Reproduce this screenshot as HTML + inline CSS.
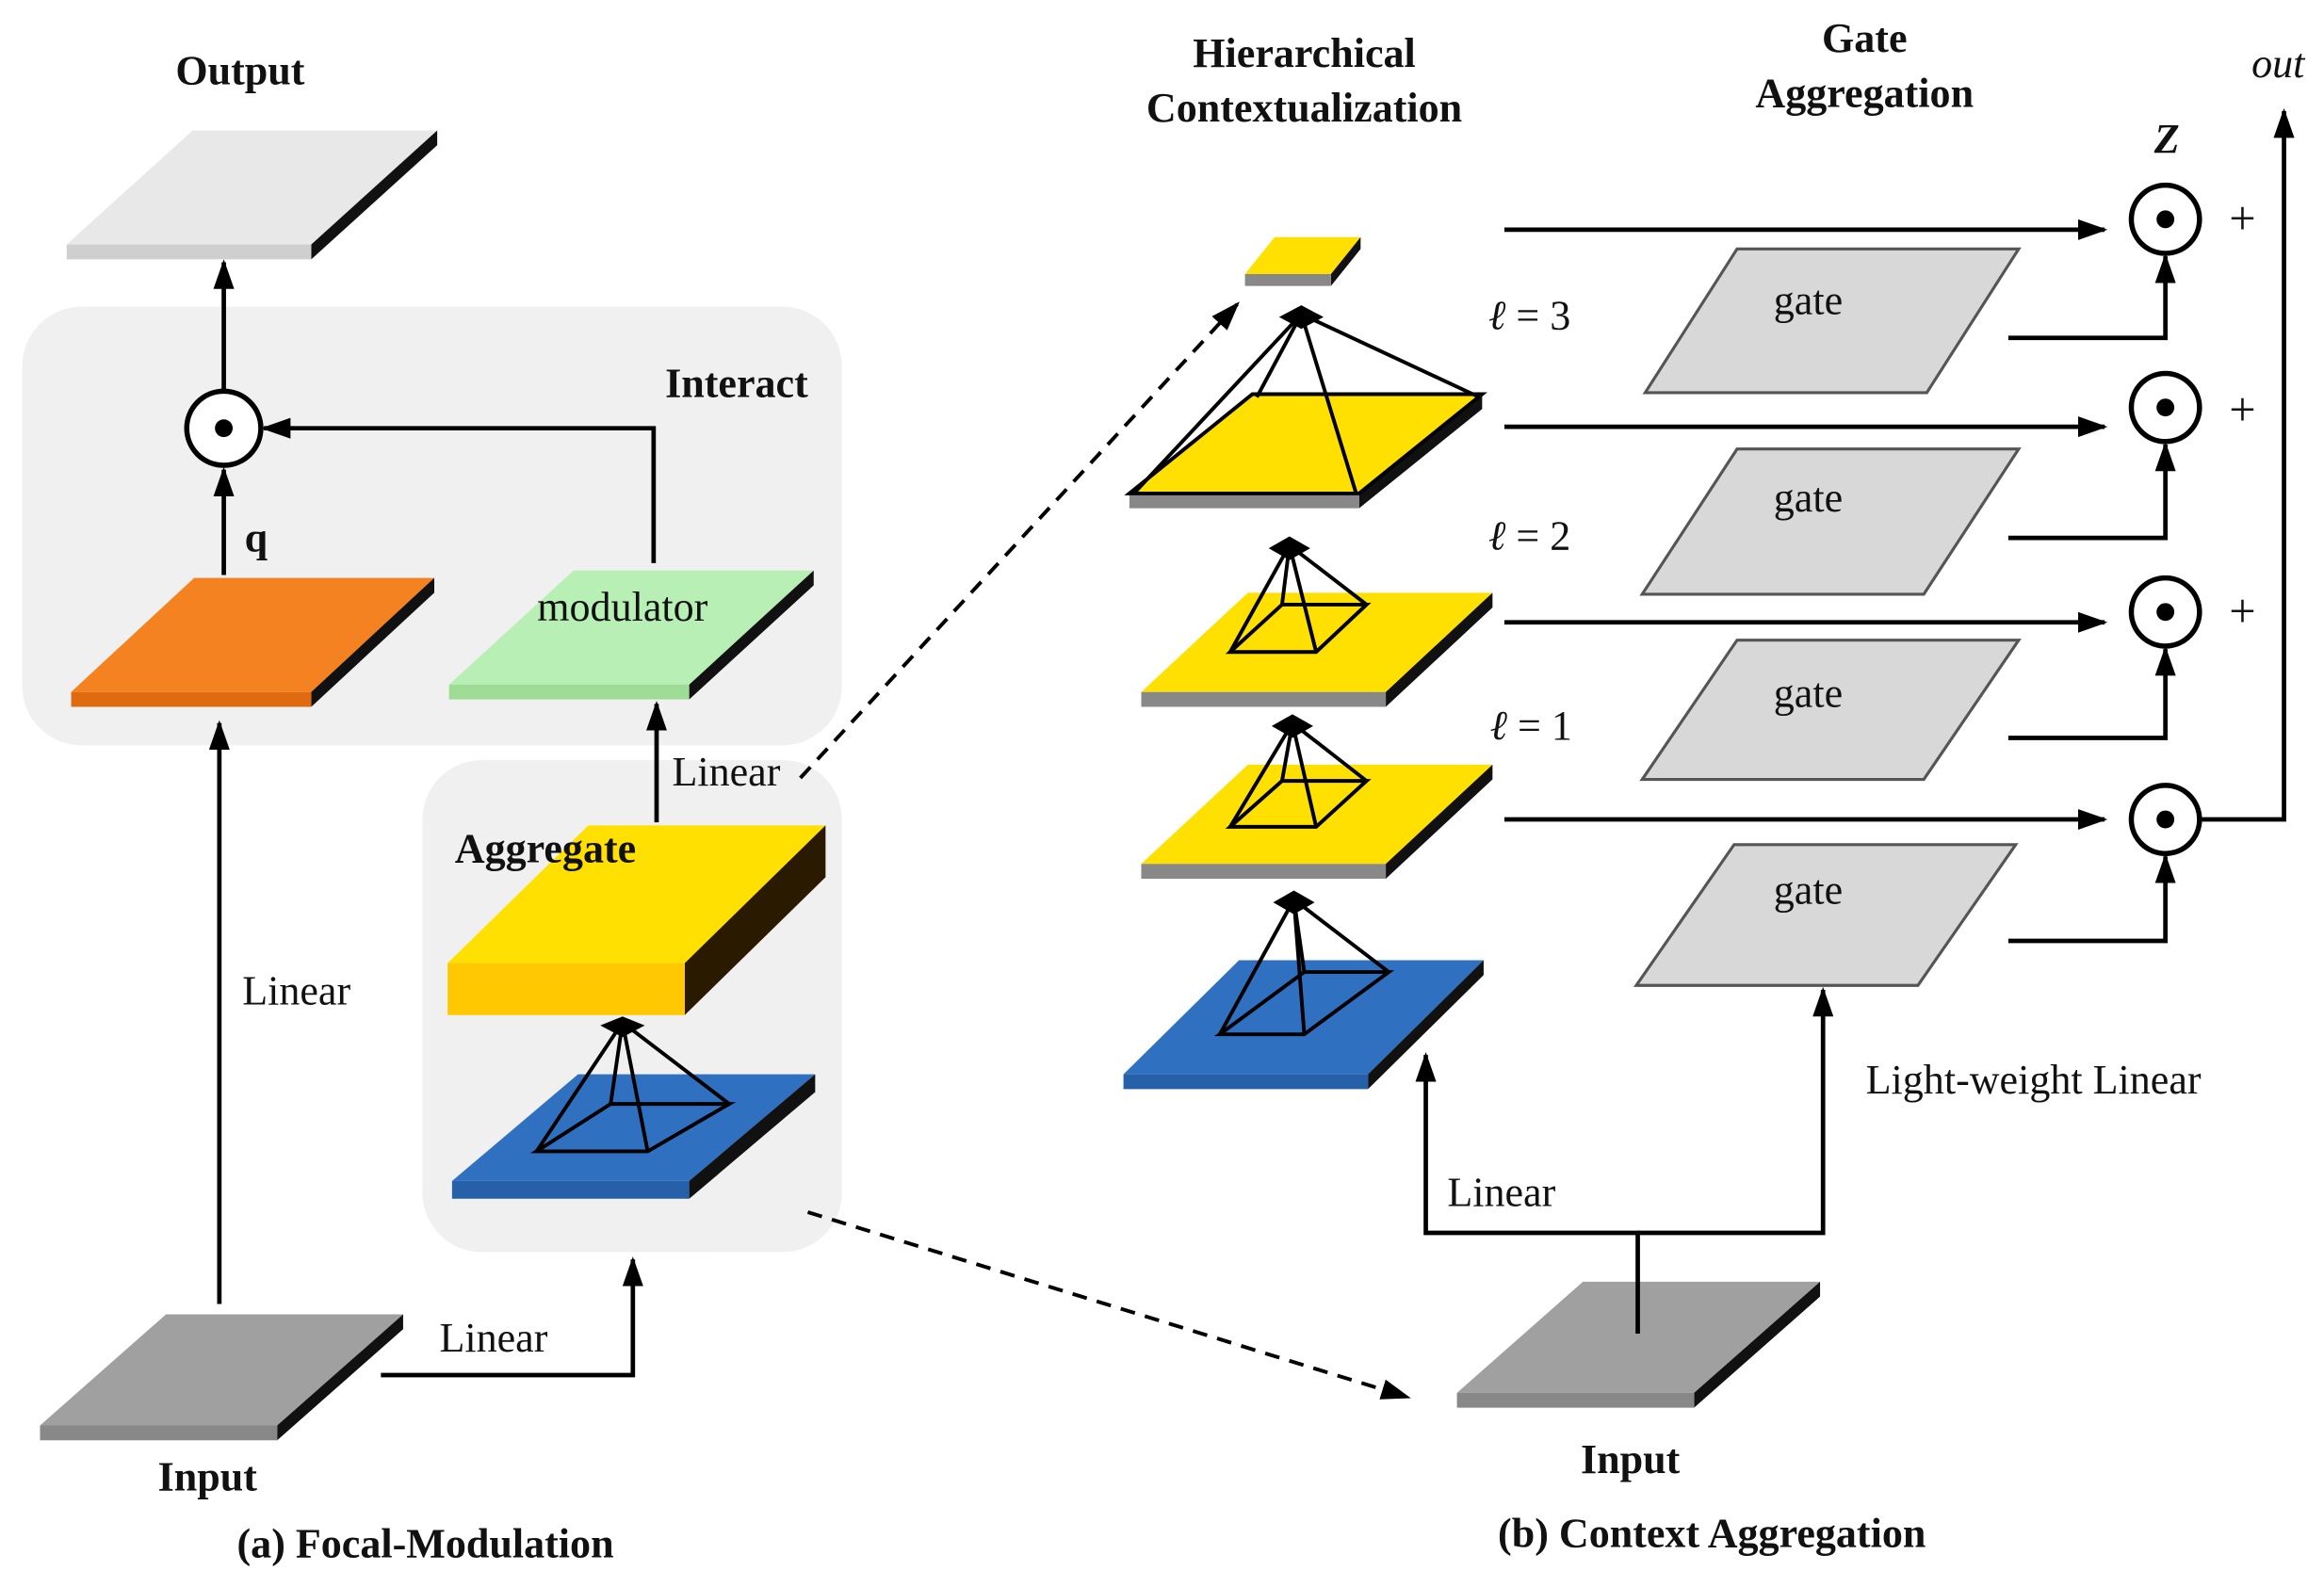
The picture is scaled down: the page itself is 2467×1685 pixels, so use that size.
<!DOCTYPE html>
<html><head><meta charset="utf-8"><style>
html,body{margin:0;padding:0;background:#fff}
svg{display:block}
text{font-family:"Liberation Serif",serif;fill:#111}
.b{font-weight:bold}
</style></head><body>
<svg width="2467" height="1685" viewBox="0 0 1568 1071" preserveAspectRatio="none" xmlns="http://www.w3.org/2000/svg">
<defs>
<marker id="ah" markerWidth="20" markerHeight="14" refX="18" refY="7" orient="auto" markerUnits="userSpaceOnUse"><path d="M0,0 L20,7 L0,14 z"/></marker>
</defs>
<rect x="15" y="207" width="553" height="296" rx="40" fill="#f0f0f0"/>
<rect x="285" y="513" width="283" height="332" rx="40" fill="#f0f0f0"/>

<polygon points="45,165 210,165 295,88 130,88" fill="#e8e8e8"/>
<polygon points="210,165 295,88 295,98 210,175" fill="#111"/>
<polygon points="45,165 210,165 210,175 45,175" fill="#cfcfcf"/>
<polygon points="48,467 210,467 293,390 131,390" fill="#f58220"/>
<polygon points="210,467 293,390 293,400 210,477" fill="#111"/>
<polygon points="48,467 210,467 210,477 48,477" fill="#e06a10"/>
<polygon points="303,462 465,462 549,385 387,385" fill="#b8efb4"/>
<polygon points="465,462 549,385 549,395 465,472" fill="#111"/>
<polygon points="303,462 465,462 465,472 303,472" fill="#9edc96"/>
<polygon points="302,650 462,650 557,557 397,557" fill="#ffe000"/>
<polygon points="462,650 557,557 557,592 462,685" fill="#2a1a00"/>
<polygon points="302,650 462,650 462,685 302,685" fill="#ffc800"/>
<polygon points="305,797 465,797 550,725 390,725" fill="#3070c0"/>
<polygon points="465,797 550,725 550,737 465,809" fill="#111"/>
<polygon points="305,797 465,797 465,809 305,809" fill="#2560a8"/>
<g fill="none" stroke="#000" stroke-width="2.5">
<polyline points="362,777 420,690 492,745 420,690 437,777"/>
<polygon points="362,777 437,777 492,745 412,745"/>
<line x1="420" y1="690" x2="412" y2="745"/>
</g>
<polygon points="405,692 420,686 435,692 420,700" fill="#000"/>
<polygon points="27,962 187,962 272,887 112,887" fill="#a0a0a0"/>
<polygon points="187,962 272,887 272,897 187,972" fill="#111"/>
<polygon points="27,962 187,962 187,972 27,972" fill="#888"/>

<polygon points="840,185 898,185 918,160 860,160" fill="#ffe000"/>
<polygon points="898,185 918,160 918,168 898,193" fill="#111"/>
<polygon points="840,185 898,185 898,193 840,193" fill="#888"/>

<polygon points="762,333 917,333 1000,266 845,266" fill="#ffe000"/>
<polygon points="917,333 1000,266 1000,276 917,343" fill="#111"/>
<polygon points="762,333 917,333 917,343 762,343" fill="#888"/>
<g fill="none" stroke="#000" stroke-width="2.5">
<polygon points="762,333 917,333 1000,266 845,266"/>
<line x1="878" y1="212" x2="765" y2="333"/><line x1="878" y1="212" x2="915" y2="333"/>
<line x1="878" y1="212" x2="998" y2="268"/><line x1="878" y1="212" x2="848" y2="268"/>
</g>
<polygon points="863,214 878,206 893,214 878,222" fill="#000"/>

<polygon points="770,467 935,467 1007,400 842,400" fill="#ffe000"/>
<polygon points="935,467 1007,400 1007,410 935,477" fill="#111"/>
<polygon points="770,467 935,467 935,477 770,477" fill="#888"/>
<g fill="none" stroke="#000" stroke-width="2.5">
<polygon points="830,440 888,440 922,408 865,408"/>
<line x1="870" y1="368" x2="830" y2="440"/><line x1="870" y1="368" x2="888" y2="440"/><line x1="870" y1="368" x2="922" y2="408"/><line x1="870" y1="368" x2="865" y2="408"/>
</g>
<polygon points="856,370 870,362 884,370 870,378" fill="#000"/>

<polygon points="770,583 935,583 1007,516 842,516" fill="#ffe000"/>
<polygon points="935,583 1007,516 1007,526 935,593" fill="#111"/>
<polygon points="770,583 935,583 935,593 770,593" fill="#888"/>
<g fill="none" stroke="#000" stroke-width="2.5">
<polygon points="830,558 888,558 922,527 865,527"/>
<line x1="872" y1="488" x2="830" y2="558"/><line x1="872" y1="488" x2="888" y2="558"/><line x1="872" y1="488" x2="922" y2="527"/><line x1="872" y1="488" x2="865" y2="527"/>
</g>
<polygon points="858,490 872,482 886,490 872,498" fill="#000"/>

<polygon points="758,725 923,725 1001,648 836,648" fill="#3070c0"/>
<polygon points="923,725 1001,648 1001,658 923,735" fill="#111"/>
<polygon points="758,725 923,725 923,735 758,735" fill="#2560a8"/>
<g fill="none" stroke="#000" stroke-width="2.5">
<polygon points="823,698 880,698 937,656 880,656"/>
<line x1="873" y1="607" x2="823" y2="698"/><line x1="873" y1="607" x2="880" y2="698"/><line x1="873" y1="607" x2="937" y2="656"/><line x1="873" y1="607" x2="880" y2="656"/>
</g>
<polygon points="859,609 873,601 887,609 873,617" fill="#000"/>

<polygon points="983,940 1143,940 1228,865 1068,865" fill="#a0a0a0"/>
<polygon points="1143,940 1228,865 1228,875 1143,950" fill="#111"/>
<polygon points="983,940 1143,940 1143,950 983,950" fill="#888"/>

<g fill="#d8d8d8" stroke="#555" stroke-width="2">
<polygon points="1110,265 1300,265 1362,168 1172,168"/>
<polygon points="1108,401 1298,401 1362,303 1172,303"/>
<polygon points="1108,526 1298,526 1362,432 1172,432"/>
<polygon points="1104,665 1294,665 1360,570 1170,570"/>
</g>
<g font-size="28" text-anchor="middle">
<text x="1220" y="212">gate</text><text x="1220" y="345">gate</text><text x="1220" y="477">gate</text><text x="1220" y="610">gate</text>
</g>

<g stroke="#000" stroke-width="3" fill="none" marker-end="url(#ah)">
<line x1="151" y1="265" x2="151" y2="177"/>
<line x1="151" y1="388" x2="151" y2="317"/>
<polyline points="441,380 441,289 178,289"/>
<line x1="148" y1="880" x2="148" y2="488"/>
<line x1="443" y1="555" x2="443" y2="475"/>
<polyline points="257,928 427,928 427,850"/>
<line x1="1015" y1="155" x2="1420" y2="155"/>
<line x1="1015" y1="288" x2="1420" y2="288"/>
<line x1="1015" y1="420" x2="1420" y2="420"/>
<line x1="1015" y1="553" x2="1420" y2="553"/>
<polyline points="1355,228 1461,228 1461,173"/>
<polyline points="1355,363 1461,363 1461,300"/>
<polyline points="1355,498 1461,498 1461,438"/>
<polyline points="1355,635 1461,635 1461,578"/>
<polyline points="1483,553 1541,553 1541,75"/>
<polyline points="1105,900 1105,832 962,832 962,712"/>
<polyline points="1105,832 1230,832 1230,668"/>
</g>
<g stroke="#000" stroke-width="2.5" fill="none" stroke-dasharray="10,7" marker-end="url(#ah)">
<line x1="540" y1="525" x2="835" y2="205"/>
<line x1="545" y1="818" x2="950" y2="943"/>
</g>

<g fill="#fff" stroke="#000" stroke-width="3.5">
<circle cx="151" cy="289" r="25"/>
<circle cx="1461" cy="148" r="23"/><circle cx="1461" cy="275" r="23"/><circle cx="1461" cy="413" r="23"/><circle cx="1461" cy="553" r="23"/>
</g>
<g fill="#000">
<circle cx="151" cy="289" r="6"/>
<circle cx="1461" cy="148" r="6"/><circle cx="1461" cy="275" r="6"/><circle cx="1461" cy="413" r="6"/><circle cx="1461" cy="553" r="6"/>
</g>

<g font-size="28">
<text x="162" y="57" class="b" text-anchor="middle">Output</text>
<text x="497" y="268" class="b" text-anchor="middle">Interact</text>
<text x="165" y="372" class="b">q</text>
<text x="420" y="419" text-anchor="middle">modulator</text>
<text x="490" y="530" text-anchor="middle">Linear</text>
<text x="368" y="582" class="b" text-anchor="middle">Aggregate</text>
<text x="200" y="678" text-anchor="middle">Linear</text>
<text x="333" y="912" text-anchor="middle">Linear</text>
<text x="140" y="1006" class="b" text-anchor="middle">Input</text>
<text x="287" y="1051" class="b" text-anchor="middle">(a) Focal-Modulation</text>
<text x="880" y="45" class="b" text-anchor="middle">Hierarchical</text>
<text x="880" y="82" class="b" text-anchor="middle">Contextualization</text>
<text x="1258" y="35" class="b" text-anchor="middle">Gate</text>
<text x="1258" y="72" class="b" text-anchor="middle">Aggregation</text>
<text x="1537" y="52" font-style="italic" text-anchor="middle">out</text>
<text x="1462" y="103" class="b" font-style="italic" text-anchor="middle">Z</text>
<text x="1513" y="158" text-anchor="middle" font-size="32">+</text>
<text x="1513" y="287" text-anchor="middle" font-size="32">+</text>
<text x="1513" y="423" text-anchor="middle" font-size="32">+</text>
<text x="1032" y="222" text-anchor="middle"><tspan font-style="italic">ℓ</tspan> = 3</text>
<text x="1032" y="371" text-anchor="middle"><tspan font-style="italic">ℓ</tspan> = 2</text>
<text x="1033" y="499" text-anchor="middle"><tspan font-style="italic">ℓ</tspan> = 1</text>
<text x="1013" y="814" text-anchor="middle">Linear</text>
<text x="1372" y="738" text-anchor="middle">Light-weight Linear</text>
<text x="1100" y="994" class="b" text-anchor="middle">Input</text>
<text x="1155" y="1044" class="b" text-anchor="middle">(b) Context Aggregation</text>
</g>
</svg>
</body></html>
